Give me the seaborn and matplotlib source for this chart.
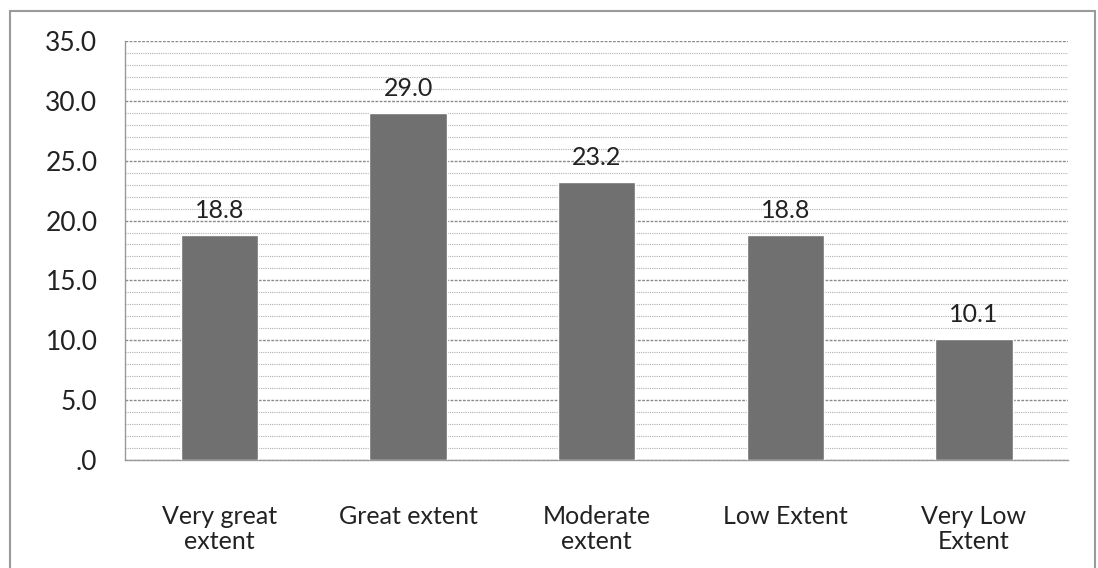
import matplotlib
matplotlib.use("Agg")
import matplotlib.pyplot as plt
import seaborn as sns
import pandas as pd
from matplotlib.patches import Rectangle

categories = ["Very great\nextent", "Great extent", "Moderate\nextent", "Low Extent", "Very Low\nExtent"]
values = [18.8, 29.0, 23.2, 18.8, 10.1]
ytick_vals = [0, 5, 10, 15, 20, 25, 30, 35]
ytick_labels = [".0", "5.0", "10.0", "15.0", "20.0", "25.0", "30.0", "35.0"]

df = pd.DataFrame({"category": categories, "value": values})

sns.set_style("white")
plt.rcParams["font.family"] = ["Lato", "DejaVu Sans"]

fig = plt.figure(figsize=(10.98, 5.68), dpi=100)
ax = fig.add_axes([0.114, 0.19, 0.859, 0.738])

sns.barplot(data=df, x="category", y="value", color="#707070", width=0.41,
            saturation=1, ax=ax, zorder=3)

ax.set_ylim(0, 35)
ax.set_xlim(-0.5, len(categories) - 0.5)
ax.set_yticks(ytick_vals)
ax.set_yticklabels(ytick_labels, fontsize=19, color="#222222")
ax.set_yticks([v for v in range(0, 36) if v % 5 != 0], minor=True)
ax.grid(axis="y", which="major", color="#8a8a8a", linestyle=(0, (2, 1)), linewidth=1.0, zorder=0)
ax.grid(axis="y", which="minor", color="#b0b0b0", linestyle=(0, (1, 1)), linewidth=0.8, zorder=0)
ax.set_axisbelow(True)

# category labels centred, tick marks at the boundaries
ax.set_xticks(range(len(categories)))
ax.set_xticklabels(categories, fontsize=18, color="#222222", linespacing=1.15)
ax.tick_params(axis="x", which="major", length=0, pad=32)
ax.set_xticks([i - 0.5 for i in range(len(categories) + 1)], minor=True)
ax.tick_params(axis="x", which="minor", length=7, color="#999999", direction="out")
ax.tick_params(axis="y", which="major", length=8, color="#999999", direction="out", pad=12)
ax.tick_params(axis="y", which="minor", length=0)

for s in ["top", "right"]:
    ax.spines[s].set_visible(False)
for s in ["left", "bottom"]:
    ax.spines[s].set_color("#999999")
    ax.spines[s].set_linewidth(1.0)

for i, v in enumerate(values):
    ax.text(i, v + 1.1, f"{v:.1f}", ha="center", va="bottom", fontsize=18, color="#222222")

ax.set_xlabel("")
ax.set_ylabel("")

fig.patches.append(Rectangle((0.009, -0.05), 0.988, 1.031, transform=fig.transFigure,
                             fill=False, edgecolor="#9a9a9a", linewidth=1.5))

fig.savefig("out.png", dpi=100)
